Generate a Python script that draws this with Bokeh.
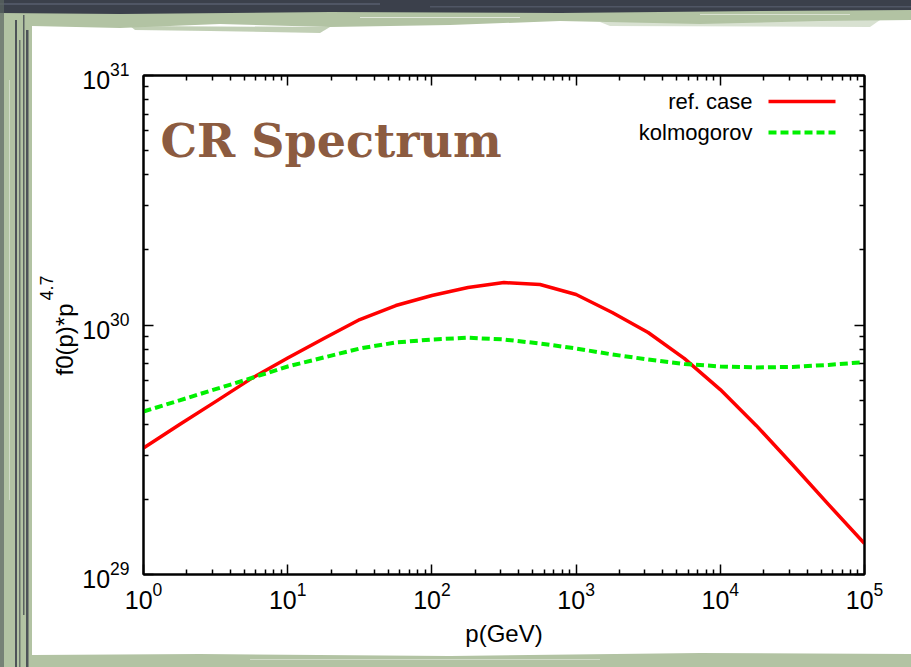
import math
from urllib.parse import quote

from bokeh.plotting import figure
from bokeh.models import (Range1d, LogAxis, LogScale, FixedTicker,
                          LogTickFormatter, CustomJSTickFormatter, Label,
                          Arrow, Title)
from bokeh.embed import file_html
from bokeh.resources import INLINE

# ---------------------------------------------------------------- data
# momentum grid (GeV)
p_gev = [1, 1.78, 3.16, 5.62, 10, 17.8, 31.6, 56.2, 100, 178, 316, 562,
         1000, 1780, 3160, 5620, 1e4, 1.78e4, 3.16e4, 5.62e4, 1e5]

# f0(p) * p^4.7 for the two diffusion models
ref_case = [3.21e29, 3.99e29, 4.93e29, 6.11e29, 7.38e29, 8.83e29, 1.052e30,
            1.197e30, 1.313e30, 1.413e30, 1.479e30, 1.453e30, 1.325e30,
            1.122e30, 9.33e29, 7.35e29, 5.51e29, 3.95e29, 2.76e29, 1.91e29,
            1.33e29]
kolmogorov = [4.50e29, 4.99e29, 5.53e29, 6.13e29, 6.82e29, 7.41e29, 8.05e29,
              8.51e29, 8.75e29, 8.89e29, 8.75e29, 8.43e29, 8.05e29, 7.62e29,
              7.27e29, 6.98e29, 6.82e29, 6.76e29, 6.79e29, 6.92e29, 7.10e29]

series_names = ["ref. case", "kolmogorov"]

x_major = [1, 10, 100, 1e3, 1e4, 1e5]
y_major = [1e29, 1e30, 1e31]

# ---------------------------------------------------------------- figure
W, H = 911, 667
SANS = "Liberation Sans"
RED = "#ff0000"
LIME = "#00f000"

x_minor = [m * t for t in x_major[:-1] for m in range(2, 10)]
y_minor = [m * t for t in y_major[:-1] for m in range(2, 10)]

p = figure(width=W, height=H, x_axis_type=None, y_axis_type=None,
           x_range=Range1d(1, 1e5), y_range=Range1d(1e29, 1e31),
           output_backend="svg", toolbar_location=None,
           min_border_left=143, min_border_right=47,
           min_border_top=75, min_border_bottom=93)
p.x_scale = LogScale()
p.y_scale = LogScale()

p.border_fill_color = None          # let the page frame behind show through
p.background_fill_color = "white"
p.outline_line_color = "black"
p.outline_line_width = 2


def make_axis(major, minor, labelled):
    fmt = LogTickFormatter() if labelled else CustomJSTickFormatter(code="return ''")
    ax = LogAxis(ticker=FixedTicker(ticks=major, minor_ticks=minor), formatter=fmt)
    ax.axis_line_width = 2
    ax.major_tick_in = 10
    ax.major_tick_out = 0
    ax.minor_tick_in = 5
    ax.minor_tick_out = 0
    ax.major_tick_line_width = 1.5
    ax.minor_tick_line_width = 1.5
    ax.major_label_text_font = SANS
    ax.major_label_text_font_size = "25px"
    ax.major_label_text_color = "black"
    return ax


xb = make_axis(x_major, x_minor, True)
xb.major_label_standoff = 7
xb.axis_label = "p(GeV)"
xb.axis_label_text_font = SANS
xb.axis_label_text_font_style = "normal"
xb.axis_label_text_font_size = "24px"
xb.axis_label_text_color = "black"
xb.axis_label_standoff = 8
p.add_layout(xb, "below")

yl = make_axis(y_major, y_minor, True)
yl.major_label_standoff = 14
p.add_layout(yl, "left")

p.add_layout(make_axis(x_major, x_minor, False), "above")
p.add_layout(make_axis(y_major, y_minor, False), "right")

# y-axis title f0(p)*p^4.7: base text, then the raised exponent further out
p.add_layout(Title(text="f0(p)*p", align="left", offset=199, standoff=4,
                   text_font=SANS, text_font_size="24px",
                   text_font_style="normal", text_color="black"), "left")
p.add_layout(Title(text="4.7", align="left", offset=274, standoff=-12,
                   text_font=SANS, text_font_size="18px",
                   text_font_style="normal", text_color="black"), "left")

# ---------------------------------------------------------------- curves
p.line(p_gev, ref_case, line_color=RED, line_width=3.5, line_join="round")
p.line(p_gev, kolmogorov, line_color=LIME, line_width=4,
       line_dash="8 4", line_cap="butt")

# legend: label on the left, line sample on the right
for name, yy, col, dash, lw in [(series_names[0], 101, RED, "solid", 3.5),
                                (series_names[1], 132, LIME, "8 4", 4)]:
    p.add_layout(Label(x=752, y=yy, x_units="canvas", y_units="canvas",
                       text=name, text_font=SANS, text_font_size="22px",
                       text_align="right", text_baseline="middle",
                       text_color="black"))
    p.add_layout(Arrow(end=None, x_start=768, y_start=yy, x_end=835,
                       y_end=yy, start_units="canvas", end_units="canvas",
                       line_color=col, line_width=lw, line_dash=dash))

# title inside the frame
p.add_layout(Label(x=160, y=140, x_units="canvas", y_units="canvas",
                   text="CR Spectrum", text_font="DejaVu Serif",
                   text_font_style="bold", text_font_size="46px",
                   text_color="#8c5b40", text_baseline="alphabetic"))

# ---------------------------------------------------------------- page frame
DARK = "#3b404b"
GREEN = "#b2c3a3"

frame_svg = f"""<svg xmlns="http://www.w3.org/2000/svg" width="{W}" height="{H}">
<rect width="{W}" height="{H}" fill="{GREEN}"/>
<polygon points="0,0 {W},0 {W},10 760,11 560,13 330,12 120,14 0,13" fill="{DARK}"/>
<rect x="0" y="3" width="380" height="2" fill="#505665"/>
<rect x="430" y="6" width="481" height="1.5" fill="#505665"/>
<rect x="0" y="0" width="4" height="{H}" fill="#5d6663" fill-opacity="0.7"/>
<rect x="15" y="20" width="2" height="647" fill="{DARK}" fill-opacity="0.85"/>
<rect x="19" y="40" width="1.5" height="627" fill="{DARK}" fill-opacity="0.6"/>
<rect x="23" y="15" width="1.5" height="600" fill="{DARK}" fill-opacity="0.75"/>
<rect x="26" y="30" width="2.5" height="637" fill="{DARK}" fill-opacity="0.85"/>
<rect x="9" y="80" width="1" height="420" fill="white" fill-opacity="0.4"/>
<polygon points="32,26 120,28 220,24 330,27 450,25 560,21 700,24 820,21 {W},20 {W},654 700,653 450,656 200,654 32,655" fill="white"/>
<polygon points="130,26 330,27 320,33 210,31 135,30" fill="{GREEN}" fill-opacity="0.8"/>
<polygon points="600,22 880,20 870,27 610,26" fill="{GREEN}" fill-opacity="0.5"/>
<rect x="360" y="17" width="160" height="1" fill="white" fill-opacity="0.6"/>
<rect x="700" y="14" width="150" height="1" fill="white" fill-opacity="0.5"/>
<rect x="250" y="659" width="350" height="1" fill="white" fill-opacity="0.4"/>
</svg>"""

p.styles = {
    "background-image": f'url("data:image/svg+xml,{quote(frame_svg)}")',
    "background-repeat": "no-repeat",
}

open("out.html", "w").write(file_html(p, INLINE))
